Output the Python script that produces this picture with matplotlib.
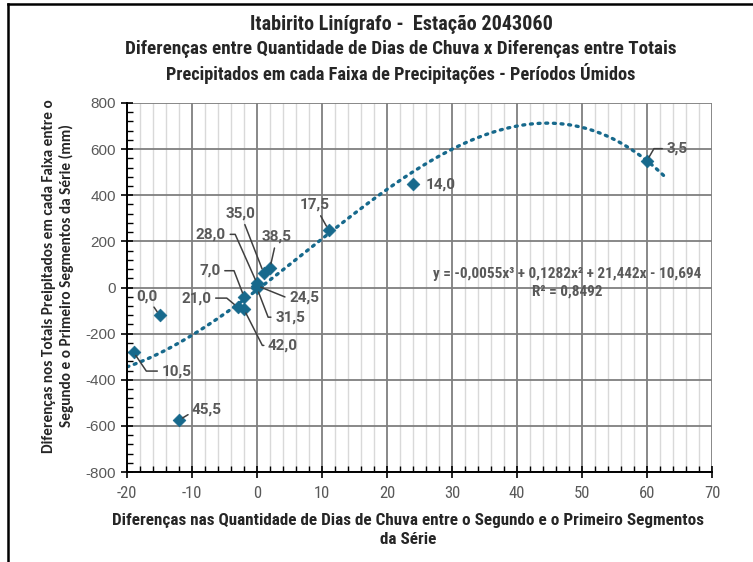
import numpy as np
import matplotlib
matplotlib.use("Agg")
import matplotlib.pyplot as plt
from matplotlib.lines import Line2D
from matplotlib.ticker import MultipleLocator

plt.rcParams["axes.unicode_minus"] = False

# Data: difference in rainy-day counts (x) vs difference in precipitation totals (y)
band_labels = ["0,0", "3,5", "7,0", "10,5", "14,0", "17,5", "21,0", "24,5",
               "28,0", "31,5", "35,0", "38,5", "42,0", "45,5"]
diff_days = [-15, 60, -2, -19, 24, 11, -3, 0, 0, 0, 1, 2, -2, -12]
diff_totals = [-120, 550, -40, -280, 450, 250, -85, 8, 18, -3, 65, 85, -95, -575]

# Cubic trendline coefficients (highest power first) and fit quality
trend_coefs = [-0.0055, 0.1282, 21.442, -10.694]
trend_r2 = 0.8492
trend_x_range = [-20, 63]

x_ticks = [-20, -10, 0, 10, 20, 30, 40, 50, 60, 70]
y_ticks = [-800, -600, -400, -200, 0, 200, 400, 600, 800]

# label placement: text offset (px) and leader-line angle at the point (None = straight)
label_layout = {
    "0,0": (-13, 19, None),
    "3,5": (30, 12, 60),
    "7,0": (-34, 26, 111),
    "10,5": (43, -19, -56),
    "14,0": (None, None, None),
    "17,5": (-14, 25, None),
    "21,0": (-41, 9, 140),
    "24,5": (47, -12, -22),
    "28,0": (-46, 49, 114),
    "31,5": (33, -29, -69),
    "35,0": (-23, 59, None),
    "38,5": (7, 31, None),
    "42,0": (39, -36, -63),
    "45,5": (28, 11, 31),
}

BLUE = "#17698C"
GREY_TXT = "#595959"
DARK_TXT = "#262626"
NARROW = ["Roboto Condensed", "Archivo Narrow", "DejaVu Sans"]
LABEL_FONT = ["Roboto", "Liberation Sans", "DejaVu Sans"]

fig = plt.figure(figsize=(7.53, 5.62), dpi=100)
ax = fig.add_axes([127 / 753, 1 - 472 / 562, (712 - 127) / 753, (472 - 103) / 562])

# axes, ticks and gridlines
ax.set_xlim(x_ticks[0], x_ticks[-1])
ax.set_ylim(y_ticks[0], y_ticks[-1])
ax.set_xticks(x_ticks)
ax.set_yticks(y_ticks)
ax.xaxis.set_minor_locator(MultipleLocator(2))
ax.yaxis.set_minor_locator(MultipleLocator(40))
ax.grid(which="major", color="#7f7f7f", linewidth=1.3, zorder=0)
ax.grid(which="minor", axis="x", color="#d9d9d9", linewidth=1.0, zorder=0)
ax.set_axisbelow(True)

for s in ("top", "right"):
    ax.spines[s].set_visible(False)
for s in ("left", "bottom"):
    ax.spines[s].set_color("black")
    ax.spines[s].set_linewidth(1.4)

ax.tick_params(which="major", direction="inout", length=8, width=1.2, color="black")
ax.tick_params(which="minor", direction="in", length=4, width=1.0, color="black")
ax.tick_params(axis="x", which="major", pad=6)
ax.tick_params(axis="y", which="major", pad=4)
for lab in ax.get_xticklabels():
    lab.set_fontfamily(NARROW)
    lab.set_fontsize(12)
    lab.set_color(GREY_TXT)
for lab in ax.get_yticklabels():
    lab.set_fontfamily(["Liberation Sans", "DejaVu Sans"])
    lab.set_fontsize(11)
    lab.set_color(GREY_TXT)

# trendline
xt = np.linspace(trend_x_range[0], trend_x_range[1], 300)
yt = np.polyval(trend_coefs, xt)
ax.plot(xt, yt, color=BLUE, linewidth=2.4, linestyle=(0, (0.6, 1.7)),
        dash_capstyle="round", zorder=2)

# points
ax.scatter(diff_days, diff_totals, marker="D", s=42, color=BLUE, zorder=3,
           edgecolors=BLUE, linewidths=0.5)

# data labels with leader lines
for lab, x, y in zip(band_labels, diff_days, diff_totals):
    dx, dy, ang = label_layout[lab]
    if dx is None:
        ax.annotate(lab, (x, y), xytext=(13, -1), textcoords="offset pixels",
                    ha="left", va="center", fontsize=11, fontweight="bold",
                    color=GREY_TXT, family=LABEL_FONT)
        continue
    cs = "arc3" if ang is None else f"angle,angleA=0,angleB={ang},rad=0"
    ax.annotate(lab, (x, y), xytext=(dx, dy), textcoords="offset pixels",
                ha="center", va="center", fontsize=11, fontweight="bold",
                color=GREY_TXT, family=LABEL_FONT,
                arrowprops=dict(arrowstyle="-", color="#404040", lw=1.1,
                                connectionstyle=cs, shrinkA=1, shrinkB=3),
                zorder=4)

# trendline equation
a, b, c, d = trend_coefs
def fmt(v, nd):
    return f"{abs(v):.{nd}f}".replace(".", ",")
eq = (f"y = {'-' if a < 0 else ''}{fmt(a, 4)}x³ {'+' if b >= 0 else '-'} {fmt(b, 4)}x² "
      f"{'+' if c >= 0 else '-'} {fmt(c, 3)}x {'+' if d >= 0 else '-'} {fmt(d, 3)}")
ax.text(0.752, 0.536, eq, transform=ax.transAxes,
        ha="center", va="center", fontsize=11, fontweight="bold",
        color=GREY_TXT, family=NARROW)
ax.text(0.752, 0.488, f"R² = {fmt(trend_r2, 4)}", transform=ax.transAxes,
        ha="center", va="center", fontsize=11, fontweight="bold",
        color=GREY_TXT, family=NARROW)

# titles
title_lines = ["Itabirito Linígrafo -  Estação 2043060",
               "Diferenças entre Quantidade de Dias de Chuva x Diferenças entre Totais",
               "Precipitados em cada Faixa de Precipitações - Períodos Úmidos"]
title_sizes = [14.5, 13.8, 13.2]
for i, (t, fs) in enumerate(zip(title_lines, title_sizes)):
    fig.text(401 / 753, 1 - (25 + 24.5 * i) / 562, t, ha="center", va="center",
             fontsize=fs, fontweight="bold", color=DARK_TXT, family=NARROW)

fig.text(408 / 753, 1 - 520 / 562,
         "Diferenças nas Quantidade de Dias de Chuva entre o Segundo e o Primeiro Segmentos",
         ha="center", va="center", fontsize=12.3, fontweight="bold",
         color=DARK_TXT, family=NARROW)
fig.text(408 / 753, 1 - 539 / 562, "da Série", ha="center", va="center",
         fontsize=12.3, fontweight="bold", color=DARK_TXT, family=NARROW)

fig.text(49 / 753, 1 - 276 / 562,
         "Diferenças nos Totais Preipitados em cada Faixa entre o",
         rotation=90, ha="center", va="center", fontsize=11, fontweight="bold",
         color=DARK_TXT, family=["Carlito", "DejaVu Sans"])
fig.text(66 / 753, 1 - 276 / 562,
         "Segundo e o Primeiro Segmentos da Série (mm)",
         rotation=90, ha="center", va="center", fontsize=11, fontweight="bold",
         color=DARK_TXT, family=["Carlito", "DejaVu Sans"])

# chart-area frame (top and left edges)
fig.add_artist(Line2D([8 / 753, 1], [1 - 4 / 562, 1 - 4 / 562], color="black",
                      linewidth=1.8, transform=fig.transFigure))
fig.add_artist(Line2D([8 / 753, 8 / 753], [0, 1 - 4 / 562], color="black",
                      linewidth=1.8, transform=fig.transFigure))

fig.savefig("out.png", dpi=100)
